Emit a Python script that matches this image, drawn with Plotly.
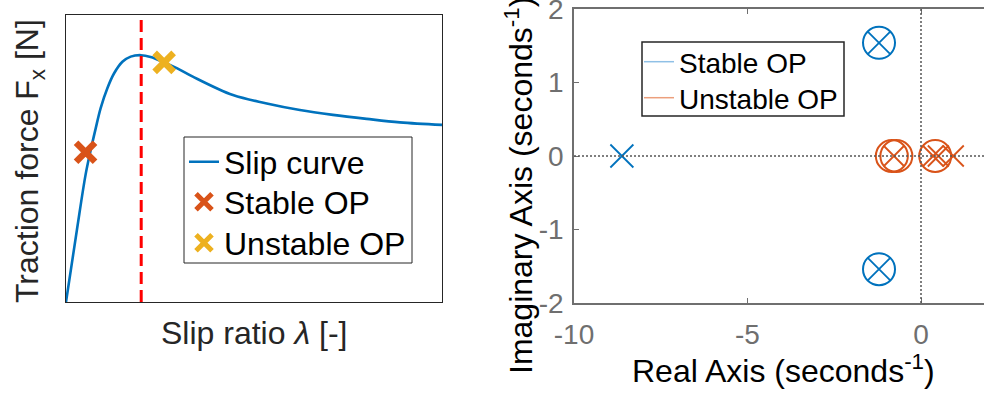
import plotly.graph_objects as go

# ---------------- Data ----------------
# Left panel: slip curve (normalised slip ratio, normalised traction force)
slip_x = [0.0, 0.029, 0.052, 0.065, 0.079, 0.092, 0.11, 0.128, 0.15, 0.172,
          0.199, 0.225, 0.261, 0.296, 0.336, 0.444, 0.534, 0.622, 0.71, 0.8, 0.888, 1.0]
slip_y = [0.0, 0.251, 0.443, 0.525, 0.605, 0.675, 0.745, 0.797, 0.837, 0.855,
          0.86, 0.854, 0.835, 0.814, 0.786, 0.721, 0.692, 0.669, 0.652, 0.638, 0.626, 0.617]
stable_op = (0.052, 0.522)
unstable_op = (0.261, 0.835)
peak_slip = 0.2

# Right panel: pole-zero map
stable_poles_re = [-8.62, -1.21, -1.21]
stable_poles_im = [0.0, 1.54, -1.54]
stable_zeros_re = [-1.21, -1.21]
stable_zeros_im = [1.54, -1.54]
unstable_poles_re = [-0.78, 0.35, 0.50, 0.93]
unstable_poles_im = [0.0, 0.0, 0.0, 0.0]
unstable_zeros_re = [-0.84, -0.71, 0.41]
unstable_zeros_im = [0.0, 0.0, 0.0]
re_ticks = [-10, -5, 0]
re_tick_labels = ["-10", "-5", "0"]
im_ticks = [-2, -1, 0, 1, 2]
im_tick_labels = ["-2", "-1", "0", "1", "2"]

BLUE = "#0072BD"
ORANGE = "#D95319"
YELLOW = "#EDB120"
DARK = "#262626"
GREY = "#6f6f6f"
FONT = "Liberation Sans, Arial, sans-serif"

W, H = 984, 396

def px_x(p):
    return p / W

def px_y(p):
    return 1 - p / H

fig = go.Figure()

# ---- Left panel ----
fig.add_trace(go.Scatter(x=slip_x, y=slip_y, mode="lines", name="Slip curve",
                         line=dict(color=BLUE, width=2.6, shape="spline", smoothing=1.0),
                         xaxis="x", yaxis="y", legend="legend"))
fig.add_trace(go.Scatter(x=[stable_op[0]], y=[stable_op[1]], mode="markers", name="Stable OP",
                         marker=dict(symbol="x-thin", size=19, color=ORANGE,
                                     line=dict(color=ORANGE, width=6.5)),
                         xaxis="x", yaxis="y", legend="legend3"))
fig.add_trace(go.Scatter(x=[unstable_op[0]], y=[unstable_op[1]], mode="markers", name="Unstable OP",
                         marker=dict(symbol="x-thin", size=19, color=YELLOW,
                                     line=dict(color=YELLOW, width=6.5)),
                         xaxis="x", yaxis="y", legend="legend4"))

# ---- Right panel ----
fig.add_trace(go.Scatter(x=stable_poles_re, y=stable_poles_im, mode="markers", showlegend=False,
                         marker=dict(symbol="x-thin", size=23, color=BLUE,
                                     line=dict(color=BLUE, width=1.8)),
                         xaxis="x2", yaxis="y2"))
fig.add_trace(go.Scatter(x=stable_zeros_re, y=stable_zeros_im, mode="markers", showlegend=False,
                         marker=dict(symbol="circle-open", size=32, color=BLUE,
                                     line=dict(color=BLUE, width=2)),
                         xaxis="x2", yaxis="y2"))
fig.add_trace(go.Scatter(x=unstable_poles_re, y=unstable_poles_im, mode="markers", showlegend=False,
                         marker=dict(symbol="x-thin", size=21, color=ORANGE,
                                     line=dict(color=ORANGE, width=1.8)),
                         xaxis="x2", yaxis="y2"))
fig.add_trace(go.Scatter(x=unstable_zeros_re, y=unstable_zeros_im, mode="markers", showlegend=False,
                         marker=dict(symbol="circle-open", size=32, color=ORANGE,
                                     line=dict(color=ORANGE, width=2)),
                         xaxis="x2", yaxis="y2"))
# legend-only entries
fig.add_trace(go.Scatter(x=[None], y=[None], mode="lines", name="Stable OP",
                         line=dict(color="#8fc0e6", width=1.5), xaxis="x2", yaxis="y2", legend="legend2"))
fig.add_trace(go.Scatter(x=[None], y=[None], mode="lines", name="Unstable OP",
                         line=dict(color="#ec9f7c", width=1.5), xaxis="x2", yaxis="y2", legend="legend5"))

R_LEFT, R_TOP, R_BOT = 574, 9, 303
re_per_px = 10 / (921 - 574)
re_max = (W - 921) * re_per_px

shapes = [
    # legend boxes
    dict(type="rect", xref="paper", yref="paper", x0=px_x(184), x1=px_x(412), y0=px_y(263), y1=px_y(137),
         line=dict(color=DARK, width=1), fillcolor="white", layer="above"),
    dict(type="rect", xref="paper", yref="paper", x0=px_x(642), x1=px_x(844), y0=px_y(116), y1=px_y(42),
         line=dict(color=DARK, width=1.5), fillcolor="white", layer="above"),
    # red dashed peak line
    dict(type="line", xref="x", yref="y", x0=peak_slip, x1=peak_slip, y0=0, y1=1,
         line=dict(color="#FF0000", width=3, dash="12px,6px")),
    # zero lines pzmap
    dict(type="line", xref="x2", yref="y2", x0=-10, x1=re_max, y0=0, y1=0,
         line=dict(color="#555555", width=1.5, dash="2px,2px")),
    dict(type="line", xref="x2", yref="y2", x0=0, x1=0, y0=-2, y1=2,
         line=dict(color="#555555", width=1.5, dash="2px,2px")),
]

def leg(xp, yp, size):
    return dict(x=px_x(xp), y=px_y(yp), xanchor="left", yanchor="middle",
                bgcolor="rgba(0,0,0,0)", borderwidth=0,
                font=dict(size=size, color="black"), itemwidth=30, tracegroupgap=0)

fig.update_layout(
    template="none",
    width=W, height=H, margin=dict(l=0, r=0, t=0, b=0, pad=0),
    paper_bgcolor="white", plot_bgcolor="white",
    font=dict(family=FONT, color=DARK),
    showlegend=True,
    xaxis=dict(domain=[px_x(66), px_x(442)], range=[0, 1], showticklabels=False, ticks="",
               showgrid=False, zeroline=False, showline=True, linecolor=DARK, linewidth=1,
               mirror=True, anchor="y", automargin=False),
    yaxis=dict(domain=[px_y(302), px_y(15)], range=[0, 1], showticklabels=False, ticks="",
               showgrid=False, zeroline=False, showline=True, linecolor=DARK, linewidth=1,
               mirror=True, anchor="x", automargin=False),
    xaxis2=dict(domain=[px_x(R_LEFT), 1], range=[-10, re_max], tickvals=re_ticks,
                ticktext=re_tick_labels,
                ticks="inside", ticklen=5, tickcolor=GREY, tickwidth=1,
                showgrid=False, zeroline=False, showline=True, linecolor=GREY, linewidth=1.5,
                mirror="ticks", anchor="y2", tickfont=dict(size=28, color=GREY),
                ticklabelstandoff=6, automargin=False, ticklabeloverflow="allow"),
    yaxis2=dict(domain=[px_y(R_BOT), px_y(R_TOP)], range=[-2, 2], tickvals=im_ticks,
                ticktext=im_tick_labels,
                ticks="inside", ticklen=5, tickcolor=GREY, tickwidth=1,
                showgrid=False, zeroline=False, showline=True, linecolor=GREY, linewidth=1.5,
                mirror=False, anchor="x2", tickfont=dict(size=28, color=GREY),
                ticklabelstandoff=3, automargin=False, ticklabeloverflow="allow"),
    legend=leg(184, 162, 32),
    legend3=leg(184, 202, 32),
    legend4=leg(184, 243, 32),
    legend2=leg(639, 62, 28),
    legend5=leg(639, 98, 28),
    shapes=shapes,
    annotations=[
        dict(text="Slip ratio <i>λ</i> [-]", xref="paper", yref="paper", x=px_x(254), y=px_y(333),
             xanchor="center", yanchor="middle", showarrow=False, font=dict(size=32, color=DARK)),
        dict(text="Traction force F<sub>x</sub> [N]", xref="paper", yref="paper", x=px_x(29), y=px_y(161),
             xanchor="center", yanchor="middle", showarrow=False, textangle=-90,
             font=dict(size=32, color=DARK)),
        dict(text="Real Axis (seconds<sup>-1</sup>)", xref="paper", yref="paper", x=px_x(783), y=px_y(369),
             xanchor="center", yanchor="middle", showarrow=False, font=dict(size=32, color="black")),
        dict(text="Imaginary Axis (seconds<sup>-1</sup>)", xref="paper", yref="paper", x=px_x(519), y=px_y(186),
             xanchor="center", yanchor="middle", showarrow=False, textangle=-90,
             font=dict(size=32, color="black")),
    ],
)

fig.write_html("out.html")
